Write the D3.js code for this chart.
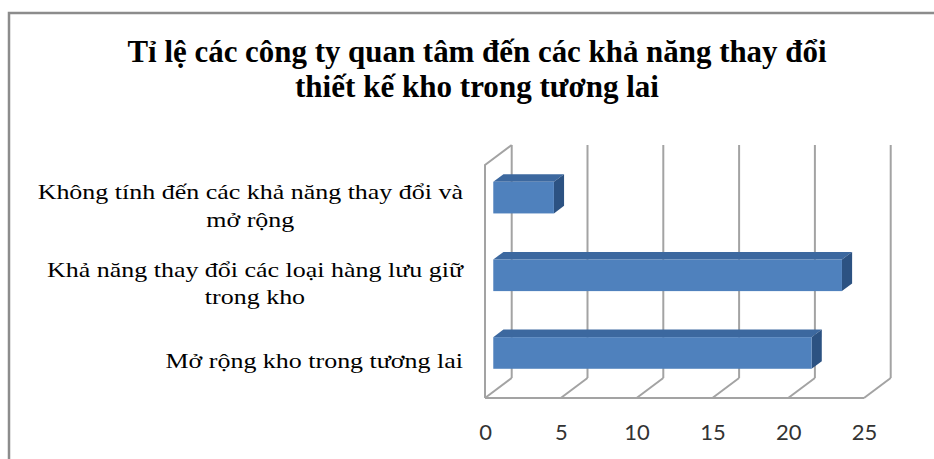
<!DOCTYPE html>
<html>
<head>
<meta charset="utf-8">
<script src="https://cdn.jsdelivr.net/npm/d3@7/dist/d3.min.js"></script>
<style>
  html, body { margin: 0; padding: 0; background: #ffffff; }
  svg { display: block; }
</style>
</head>
<body>
<script>
// Chart data
const titleLines = ["Tỉ lệ các công ty quan tâm đến các khả năng thay đổi", "thiết kế kho trong tương lai"];
const categories = [
  "Không tính đến các khả năng thay đổi và mở rộng",
  "Khả năng thay đổi các loại hàng lưu giữ trong kho",
  "Mở rộng kho trong tương lai"
];
const categoryLines = [
  ["Không tính đến các khả năng thay đổi và", "mở rộng"],
  ["Khả năng thay đổi các loại hàng lưu giữ", "trong kho"],
  ["Mở rộng kho trong tương lai"]
];
const values = [4, 23, 21];
const tickValues = [0, 5, 10, 15, 20, 25];

const W = 934, H = 459;
const svg = d3.select("body").append("svg").attr("width", W).attr("height", H);

// Outer chart frame
svg.append("rect")
  .attr("x", 9).attr("y", 13).attr("width", W + 20).attr("height", H + 20)
  .attr("fill", "#ffffff").attr("stroke", "#8c8c8c").attr("stroke-width", 2.5);

// Plot geometry (front plane + depth offset of the 3-D box)
const front = { left: 485, right: 864, top: 165, bottom: 398 };
const depth = { dx: 26.7, dy: -20 };
const off = f => [depth.dx * f, depth.dy * f];

const x = d3.scaleLinear().domain([0, 25]).range([front.left, front.right]);
const y = d3.scaleBand().domain(categories).range([front.top, front.bottom])
  .paddingInner(0.593).paddingOuter(0.2965);

const gridColor = "#a3a3a3";
const grid = svg.append("g").attr("fill", "none").attr("stroke", gridColor).attr("stroke-width", 2);

// Back wall vertical gridlines
tickValues.forEach(v => {
  const [bx, by] = off(1);
  grid.append("line")
    .attr("x1", x(v) + bx).attr("y1", front.top + by)
    .attr("x2", x(v) + bx).attr("y2", front.bottom + by);
});
// Floor: depth lines at each tick and the front edge
tickValues.forEach(v => {
  const [bx, by] = off(1);
  grid.append("line")
    .attr("x1", x(v)).attr("y1", front.bottom)
    .attr("x2", x(v) + bx).attr("y2", front.bottom + by);
});
grid.append("line")
  .attr("x1", x(0)).attr("y1", front.bottom)
  .attr("x2", x(25)).attr("y2", front.bottom);
// Left side wall
{
  const [bx, by] = off(1);
  grid.append("path").attr("d",
    `M${x(0)},${front.bottom} L${x(0)},${front.top} L${x(0) + bx},${front.top + by}`);
}

// 3-D bars
const barFront = 0.31, barBack = 0.69;
const [fx, fy] = off(barFront);
const [kx, ky] = off(barBack);
const bars = svg.append("g");
categories.forEach((c, i) => {
  const x0 = x(0) + fx, x1 = x(values[i]) + fx;
  const yt = y(c) + fy;
  const yb = yt + y.bandwidth();
  const ddx = kx - fx, ddy = ky - fy;
  // top face
  bars.append("path")
    .attr("d", `M${x0},${yt} L${x0 + ddx},${yt + ddy} L${x1 + ddx},${yt + ddy} L${x1},${yt} Z`)
    .attr("fill", "#3c689f");
  // side face
  bars.append("path")
    .attr("d", `M${x1},${yt} L${x1 + ddx},${yt + ddy} L${x1 + ddx},${yb + ddy} L${x1},${yb} Z`)
    .attr("fill", "#2c5282");
  // front face
  bars.append("rect")
    .attr("x", x0).attr("y", yt).attr("width", x1 - x0).attr("height", yb - yt)
    .attr("fill", "#4f81bd");
});

// Value axis labels
const axis = d3.axisBottom(x).tickValues(tickValues).tickSize(0).tickPadding(26);
const ag = svg.append("g").attr("transform", `translate(0,${front.bottom})`).call(axis);
ag.select(".domain").remove();
ag.selectAll("text")
  .attr("font-family", "Lato, 'Open Sans', sans-serif")
  .attr("font-size", 22).attr("fill", "#333333");

// Category labels, lines centred within a right-aligned block
const labelRight = 463;
const lineGap = 27.5;
const labelStretch = 1.18;
categoryLines.forEach((lines, i) => {
  const cy = y(categories[i]) + y.bandwidth() / 2 + 2;
  const g = svg.append("g");
  const n = lines.length;
  const texts = lines.map((t, j) => g.append("text")
    .attr("text-anchor", "middle")
    .attr("font-family", "'Liberation Serif', 'Times New Roman', serif")
    .attr("font-size", 22).attr("fill", "#000")
    .attr("y", cy + (j - (n - 1) / 2) * lineGap + 7)
    .text(t));
  texts.forEach(t => {
    const w = t.node().getComputedTextLength();
    t.attr("textLength", w * labelStretch).attr("lengthAdjust", "spacingAndGlyphs");
  });
  const maxW = d3.max(texts, t => +t.attr("textLength"));
  texts.forEach(t => t.attr("x", labelRight - maxW / 2));
});

// Title
const titleWidths = [699, 364];
titleLines.forEach((t, j) => {
  svg.append("text")
    .attr("x", 477).attr("y", 62 + j * 35)
    .attr("text-anchor", "middle")
    .attr("font-family", "'Liberation Serif', 'Times New Roman', serif")
    .attr("font-weight", "bold").attr("font-size", 31).attr("fill", "#000")
    .attr("textLength", titleWidths[j]).attr("lengthAdjust", "spacingAndGlyphs")
    .text(t);
});
</script>
</body>
</html>
